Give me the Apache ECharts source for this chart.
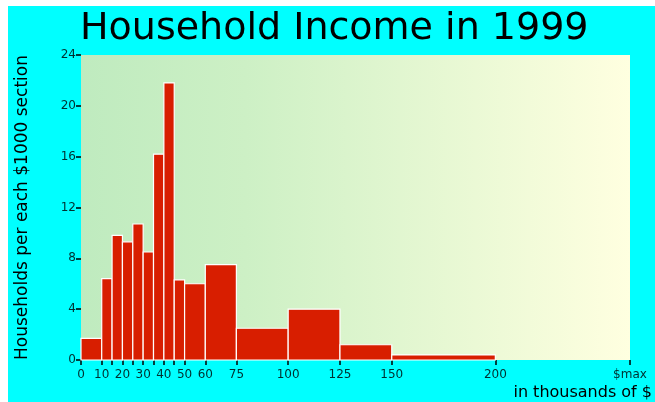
<!DOCTYPE html>
<html>
<head>
<meta charset="utf-8">
<script src="https://cdn.jsdelivr.net/npm/echarts@6/dist/echarts.min.js"></script>
<style>
  html, body { margin: 0; padding: 0; background: #fff; }
  #chart { width: 655px; height: 402px; }
</style>
</head>
<body>
<div id="chart"></div>
<script>
// income brackets in thousands of $, [from, to]
var binStarts = [0, 10, 15, 20, 25, 30, 35, 40, 45, 50, 60, 75, 100, 125, 150];
var binEnds = [10, 15, 20, 25, 30, 35, 40, 45, 50, 60, 75, 100, 125, 150, 200];
// households per each $1000 section
var households = [1.7, 6.4, 9.8, 9.3, 10.7, 8.5, 16.2, 21.8, 6.3, 6.0, 7.5, 2.5, 4.0, 1.2, 0.4];
var xMax = 265;
var xLabelValues = [0, 10, 20, 30, 40, 50, 60, 75, 100, 125, 150, 200, xMax];
var xTickValues = [0, 10, 15, 20, 25, 30, 35, 40, 45, 50, 60, 75, 100, 125, 150, 200, xMax];

var chart = echarts.init(document.getElementById("chart"));

var seriesData = binStarts.map(function (s, i) {
  return [s, binEnds[i], households[i]];
});

var option = {
  backgroundColor: "#fff",
  animation: false,
  textStyle: { fontFamily: "DejaVu Sans" },
  graphic: [
    {
      type: "rect",
      z: -10,
      shape: { x: 8, y: 6, width: 660, height: 410 },
      style: { fill: "#00ffff" },
    },
    {
      type: "text",
      right: 3,
      top: 385,
      style: {
        text: "in thousands of $",
        fill: "#000",
        font: "16px 'DejaVu Sans'",
      },
    },
  ],
  title: {
    text: "Household Income in 1999",
    left: 75,
    top: 5,
    textStyle: {
      color: "#000",
      fontSize: 38,
      fontWeight: "normal",
      fontFamily: "DejaVu Sans",
    },
  },
  grid: {
    left: 81,
    right: 25,
    top: 55,
    bottom: 42,
    show: true,
    borderWidth: 0,
    backgroundColor: new echarts.graphic.LinearGradient(0, 0, 1, 0, [
      { offset: 0, color: "#bfebbf" },
      { offset: 0.3, color: "#cdf0c5" },
      { offset: 1, color: "#ffffe0" },
    ]),
  },
  xAxis: {
    type: "value",
    min: 0,
    max: xMax,
    axisLine: { show: false },
    splitLine: { show: false },
    axisTick: {
      show: true,
      length: 5,
      customValues: xTickValues,
      lineStyle: { color: "#000", width: 1.5 },
    },
    axisLabel: {
      customValues: xLabelValues,
      color: "#003030",
      fontSize: 12,
      margin: 9,
      formatter: function (v) {
        return v === xMax ? "$max" : String(v);
      },
    },
  },
  yAxis: {
    type: "value",
    min: 0,
    max: 24,
    interval: 4,
    name: "Households per each $1000 section",
    nameLocation: "middle",
    nameRotate: 90,
    nameGap: 50,
    nameTextStyle: { color: "#000", fontSize: 17 },
    axisLine: { show: false },
    splitLine: { show: false },
    axisTick: {
      show: true,
      length: 5,
      lineStyle: { color: "#000", width: 1.5 },
    },
    axisLabel: { color: "#003030", fontSize: 12, margin: 5 },
  },
  series: [
    {
      type: "custom",
      renderItem: function (params, api) {
        var top = api.coord([api.value(0), api.value(2)]);
        var bottom = api.coord([api.value(1), 0]);
        return {
          type: "rect",
          shape: {
            x: top[0],
            y: top[1],
            width: bottom[0] - top[0],
            height: bottom[1] - top[1],
          },
          style: { fill: "#d81e00", stroke: "#fff", lineWidth: 1.2 },
        };
      },
      encode: { x: [0, 1], y: 2 },
      data: seriesData,
    },
  ],
};

chart.setOption(option);
</script>
</body>
</html>
